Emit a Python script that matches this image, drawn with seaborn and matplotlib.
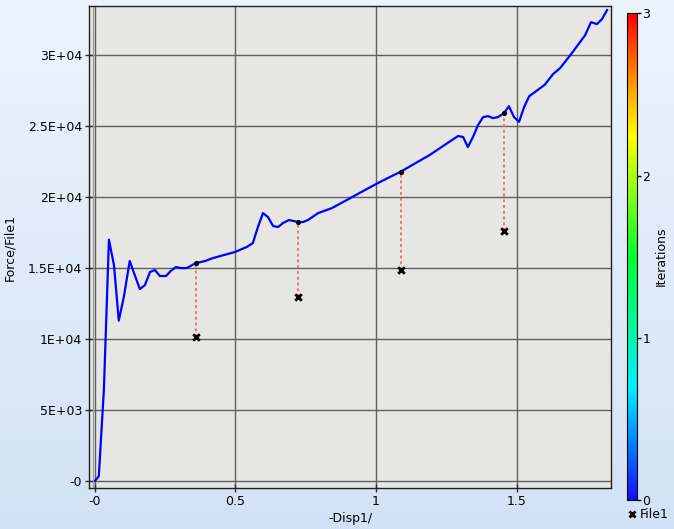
import numpy as np
import pandas as pd
import matplotlib
matplotlib.use("Agg")
import matplotlib.pyplot as plt
from matplotlib.colors import LinearSegmentedColormap, Normalize
from matplotlib.lines import Line2D
import seaborn as sns

# force / displacement curve
disp = [0.0, 0.014, 0.032, 0.050, 0.068, 0.085, 0.103, 0.124, 0.142, 0.160,
        0.178, 0.196, 0.214, 0.231, 0.253, 0.270, 0.288, 0.306, 0.327, 0.359,
        0.391, 0.420, 0.456, 0.498, 0.540, 0.562, 0.580, 0.598, 0.616, 0.634,
        0.652, 0.669, 0.690, 0.708, 0.722, 0.740, 0.758, 0.794, 0.843, 0.896,
        0.954, 1.014, 1.089, 1.190, 1.292, 1.310, 1.327, 1.345, 1.363, 1.381,
        1.399, 1.416, 1.434, 1.455, 1.473, 1.491, 1.509, 1.527, 1.545, 1.600,
        1.630, 1.655, 1.697, 1.744, 1.765, 1.786, 1.804, 1.822]
force = [0, 350, 6400, 17000, 15200, 11300, 12960, 15500, 14500, 13520,
         13800, 14720, 14860, 14440, 14440, 14800, 15070, 15000, 15000, 15350,
         15490, 15700, 15900, 16130, 16480, 16760, 17890, 18870, 18590, 17960,
         17890, 18170, 18380, 18310, 18240, 18240, 18380, 18870, 19220, 19790,
         20420, 21060, 21800, 22950, 24300, 24230, 23520, 24230, 25070, 25630,
         25700, 25560, 25630, 25900, 26400, 25630, 25300, 26340, 27100, 27900,
         28660, 29080, 30140, 31400, 32320, 32180, 32530, 33170]

# iteration points (on curve) and File1 points
iter_disp = [0.359, 0.722, 1.089, 1.455]
iter_force = [15350, 18240, 21800, 25900]
file_force = [10140, 12960, 14860, 17610]

xticks = [0, 0.5, 1, 1.5]
xtick_labels = ["-0", "0.5", "1", "1.5"]
yticks = [0, 5000, 10000, 15000, 20000, 25000, 30000]
ytick_labels = ["-0", "5E+03", "1E+04", "1.5E+04", "2E+04", "2.5E+04", "3E+04"]

df = pd.DataFrame({"disp": disp, "force": force})
pts = pd.DataFrame({"disp": iter_disp, "force": file_force})
dots = pd.DataFrame({"disp": iter_disp, "force": iter_force})

plt.rcParams["font.family"] = ["DejaVu Sans"]
plt.rcParams["font.size"] = 9

fig = plt.figure(figsize=(6.74, 5.29), dpi=100)

# gradient background
bg = fig.add_axes([0, 0, 1, 1], zorder=-10)
top = np.array([236, 244, 253]) / 255
bot = np.array([210, 226, 246]) / 255
t = np.linspace(0, 1, 256)[:, None]
grad = (top[None, :] * (1 - t) + bot[None, :] * t)[:, None, :]
bg.imshow(grad, aspect="auto", extent=[0, 1, 0, 1])
bg.axis("off")

ax = fig.add_axes([0.132, 0.0775, 0.7745, 0.911])
ax.set_facecolor("#e6e7e3")
ax.set_xlim(-0.021, 1.836)
ax.set_ylim(-490, 33450)
ax.set_xticks(xticks)
ax.set_xticklabels(xtick_labels)
ax.set_yticks(yticks)
ax.set_yticklabels(ytick_labels)
ax.grid(True, color="#606060", linewidth=1.0)
ax.set_axisbelow(True)
ax.axvline(-0.006, color="#a0a0a0", linewidth=1.0, zorder=1)
for s in ax.spines.values():
    s.set_color("#202020")
    s.set_linewidth(1.0)
ax.tick_params(length=6, width=1, color="#303030", direction="inout", pad=2)

ax.vlines(iter_disp, file_force, iter_force, colors="#f26a6a",
          linestyles=(0, (1.6, 1.6)), linewidth=1.3, zorder=2)
sns.lineplot(data=df, x="disp", y="force", ax=ax, color="#0000ff",
             linewidth=1.6, sort=False, zorder=3)
sns.scatterplot(data=dots, x="disp", y="force", ax=ax, color="black",
                s=14, linewidth=0, zorder=4)
sns.scatterplot(data=pts, x="disp", y="force", ax=ax, color="black",
                marker="x", s=22, linewidth=2.0, zorder=4)
ax.set_xlabel("-Disp1/", labelpad=3)
ax.set_ylabel("Force/File1", labelpad=8)

# colorbar
cmap = LinearSegmentedColormap.from_list(
    "iters", [(0, "#1010ff"), (0.23, "#00f0ff"), (0.5, "#00ff30"),
              (0.75, "#ffff00"), (0.88, "#ff8000"), (1, "#ff0000")])
cax = fig.add_axes([0.930, 0.0548, 0.0148, 0.920])
sm = plt.cm.ScalarMappable(norm=Normalize(0, 3), cmap=cmap)
cb = fig.colorbar(sm, cax=cax, ticks=[0, 1, 2, 3])
cb.ax.set_yticklabels(["0", "1", "2", "3"])
cb.ax.tick_params(length=3, width=1, pad=1)
cb.outline.set_linewidth(0.8)
cb.set_label("Iterations", labelpad=3)

fig.legend(handles=[Line2D([], [], marker="x", color="black", linestyle="none",
                           markersize=5, markeredgewidth=2.0)],
           labels=["File1"], loc="center left", bbox_to_anchor=(0.918, 0.027),
           frameon=False, handletextpad=0.0, handlelength=1.2, borderpad=0)

fig.savefig("out.png", dpi=100)
